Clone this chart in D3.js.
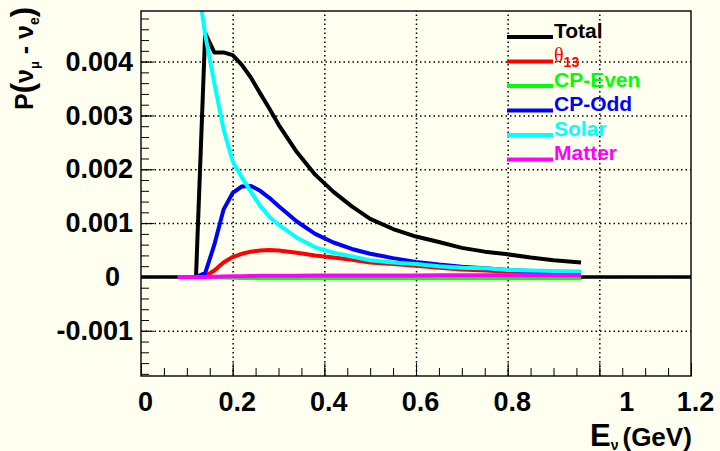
<!DOCTYPE html>
<html>
<head>
<meta charset="utf-8">
<script src="https://cdn.jsdelivr.net/npm/d3@7/dist/d3.min.js"></script>
<style>
  html, body { margin: 0; padding: 0; background: #fffff0; }
  svg { display: block; font-family: "Liberation Sans", Arial, Helvetica, sans-serif; }
</style>
</head>
<body>
<div class="chart"></div>
<script>
/* Neutrino energy (GeV) at which each curve was sampled */
const energy = [0.08, 0.10, 0.12, 0.14, 0.16, 0.18, 0.20, 0.22, 0.24, 0.26, 0.28, 0.30,
                0.34, 0.38, 0.42, 0.46, 0.50, 0.55, 0.60, 0.65, 0.70, 0.75, 0.80, 0.85, 0.90, 0.96];

/* P(numu -> nue) contributions */
const total   = [0, 0, 0, 0.00453, 0.00417, 0.00417, 0.00412, 0.00394, 0.00370, 0.00341, 0.00313, 0.00283,
                 0.00232, 0.00190, 0.00158, 0.00131, 0.00108, 0.00089, 0.00075, 0.00065, 0.00054, 0.00047,
                 0.00042, 0.00036, 0.00031, 0.00027];
const theta13 = [0, 0, 0, 0.00001, 0.00012, 0.00027, 0.00037, 0.00043, 0.00047, 0.00049, 0.00050, 0.00049,
                 0.00045, 0.00040, 0.00036, 0.00032, 0.00027, 0.00024, 0.00021, 0.00017, 0.00014, 0.00012,
                 0.00010, 0.00008, 0.00007, 0.00006];
const cpEven  = [0, 0, 0, 0, -0.000005, -0.00001, -0.000015, -0.00002, -0.00002, -0.000022, -0.000023, -0.000024,
                 -0.000025, -0.000025, -0.000025, -0.000025, -0.000025, -0.000025, -0.000025, -0.000025, -0.000025,
                 -0.000025, -0.000025, -0.000025, -0.000025, -0.000025];
const cpOdd   = [0, 0, 0, 0.00007, 0.00060, 0.00125, 0.00156, 0.00168, 0.00169, 0.00160, 0.00147, 0.00132,
                 0.00103, 0.00080, 0.00064, 0.00052, 0.00043, 0.00035, 0.00028, 0.00023, 0.00019, 0.00016,
                 0.00013, 0.00011, 0.00009, 0.00007];
const solar   = [0.0110, 0.0076, 0.0057, 0.00450, 0.00360, 0.00275, 0.00215, 0.00185, 0.00158, 0.00132, 0.00112, 0.00097,
                 0.00073, 0.00055, 0.00045, 0.00038, 0.00031, 0.00027, 0.00024, 0.00020, 0.00017, 0.00016,
                 0.00013, 0.00012, 0.00011, 0.00010];
const matter  = [0, 0, 0, 0, 0.000005, 0.00001, 0.000012, 0.000015, 0.000017, 0.00002, 0.00002, 0.000022,
                 0.000024, 0.000025, 0.000026, 0.000027, 0.000028, 0.000028, 0.000029, 0.00003, 0.00003, 0.00003,
                 0.00003, 0.00003, 0.00003, 0.00003];

const seriesNames = ["Total", "θ13", "CP-Even", "CP-Odd", "Solar", "Matter"];

/* Axis ticks and their labels */
const xTicks = [0, 0.2, 0.4, 0.6, 0.8, 1.0, 1.2];
const xTickLabels = ["0", "0.2", "0.4", "0.6", "0.8", "1", "1.2"];
const yTicks = [-0.001, 0, 0.001, 0.002, 0.003, 0.004];
const yTickLabels = ["-0.001", "0", "0.001", "0.002", "0.003", "0.004"];

const drawChart = () => {
  const w = 720;
  const h = 451;
  const frame = { left: 141, right: 691, top: 11, bottom: 376 };
  const colors = ["#000000", "#ff0000", "#00ff00", "#0000ff", "#00ffff", "#ff00ff"];
  const series = [total, theta13, cpEven, cpOdd, solar, matter];

  const xScale = d3.scaleLinear()
                   .domain([0, 1.2])
                   .range([frame.left, frame.right]);

  const yScale = d3.scaleLinear()
                   .domain([-0.00184, 0.00494])
                   .range([frame.bottom, frame.top]);

  const svg = d3.select(".chart")
                .append("svg")
                .attr("width", w)
                .attr("height", h);

  svg.append("rect")
     .attr("width", w)
     .attr("height", h)
     .attr("fill", "#fffff0");

  svg.append("clipPath")
     .attr("id", "plot-clip")
     .append("rect")
     .attr("x", frame.left)
     .attr("y", frame.top)
     .attr("width", frame.right - frame.left)
     .attr("height", frame.bottom - frame.top);

  /* Dotted grid at the major ticks, made from full-length axis ticks */
  const xGrid = svg.append("g")
     .attr("transform", "translate(0," + frame.bottom + ")")
     .call(d3.axisBottom(xScale)
             .tickValues(xTicks.filter((d) => d > 0 && d < 1.2))
             .tickSize(-(frame.bottom - frame.top))
             .tickFormat(""));
  xGrid.select(".domain").remove();

  const yGrid = svg.append("g")
     .attr("transform", "translate(" + frame.left + ",0)")
     .call(d3.axisLeft(yScale)
             .tickValues(yTicks)
             .tickSize(-(frame.right - frame.left))
             .tickFormat(""));
  yGrid.select(".domain").remove();

  [xGrid, yGrid].forEach((g) => {
    g.selectAll(".tick line")
     .attr("stroke", "#000")
     .attr("stroke-width", 1.5)
     .attr("stroke-dasharray", "1.5,3");
  });

  /* Minor and major ticks drawn inside the frame, ROOT style */
  const xMinor = d3.range(0, 1.2001, 0.05);
  const yMinor = d3.range(-0.0018, 0.00491, 0.0002);

  svg.append("g")
     .attr("transform", "translate(0," + frame.bottom + ")")
     .call(d3.axisBottom(xScale).tickValues(xMinor).tickSize(-8).tickFormat(""))
     .call((g) => g.select(".domain").remove());

  svg.append("g")
     .attr("transform", "translate(" + frame.left + ",0)")
     .call(d3.axisLeft(yScale).tickValues(yMinor).tickSize(-8).tickFormat(""))
     .call((g) => g.select(".domain").remove());

  const xAxis = svg.append("g")
     .attr("id", "x-axis")
     .attr("transform", "translate(0," + frame.bottom + ")")
     .call(d3.axisBottom(xScale)
             .tickValues(xTicks)
             .tickSize(-13)
             .tickPadding(16)
             .tickFormat((d, i) => xTickLabels[i]));
  xAxis.select(".domain").remove();
  xAxis.selectAll("text")
       .attr("fill", "#000")
       .attr("font-size", 27)
       .attr("font-weight", "bold")
       .attr("font-family", "Liberation Sans, Arial, sans-serif")
       .attr("dx", (d) => (d === 1.0 ? 27 : 4));

  const yAxis = svg.append("g")
     .attr("id", "y-axis")
     .attr("transform", "translate(" + frame.left + ",0)")
     .call(d3.axisLeft(yScale)
             .tickValues(yTicks)
             .tickSize(-13)
             .tickPadding(8)
             .tickFormat((d, i) => yTickLabels[i]));
  yAxis.select(".domain").remove();
  yAxis.selectAll("text")
       .attr("fill", "#000")
       .attr("font-size", 27)
       .attr("font-weight", "bold")
       .attr("font-family", "Liberation Sans, Arial, sans-serif")
       .attr("dx", (d) => (d === 0 ? -13 : 0));

  /* Curves, clipped to the frame; the black zero line sits under them */
  const plot = svg.append("g").attr("clip-path", "url(#plot-clip)");

  plot.append("line")
      .attr("x1", xScale(0))
      .attr("x2", xScale(1.2))
      .attr("y1", yScale(0))
      .attr("y2", yScale(0))
      .attr("stroke", "#000")
      .attr("stroke-width", 3.5);

  const line = d3.line()
                 .x((d, i) => xScale(energy[i]))
                 .y((d) => yScale(d));

  plot.selectAll(".curve")
      .data(series)
      .enter()
      .append("path")
      .attr("class", "curve")
      .attr("d", line)
      .attr("fill", "none")
      .attr("stroke", (d, i) => colors[i])
      .attr("stroke-width", 4)
      .attr("stroke-linejoin", "round");

  /* Frame */
  svg.append("rect")
     .attr("x", frame.left)
     .attr("y", frame.top)
     .attr("width", frame.right - frame.left)
     .attr("height", frame.bottom - frame.top)
     .attr("fill", "none")
     .attr("stroke", "#000")
     .attr("stroke-width", 1.4);

  /* Legend */
  const legend = svg.append("g").attr("transform", "translate(507,0)");
  const legendY = [37, 61.5, 86, 110.5, 135, 159.5];

  seriesNames.forEach((name, i) => {
    legend.append("line")
          .attr("x1", 0)
          .attr("x2", 46)
          .attr("y1", legendY[i])
          .attr("y2", legendY[i])
          .attr("stroke", colors[i])
          .attr("stroke-width", 4);

    const label = legend.append("text")
                        .attr("x", 47)
                        .attr("y", legendY[i] + 0.5)
                        .attr("fill", colors[i])
                        .attr("font-size", 21)
                        .attr("font-weight", "bold");
    if (name === "θ13") {
      label.append("tspan")
           .attr("font-family", "Liberation Serif, Times New Roman, serif")
           .attr("font-weight", "normal")
           .attr("font-size", 20)
           .text("θ");
      label.append("tspan")
           .attr("font-size", 14)
           .attr("dy", 5)
           .text("13");
    } else {
      label.text(name);
    }
  });

  /* Y axis title: P(nu_mu - nu_e) */
  const yTitle = svg.append("text")
                    .attr("transform", "translate(33,110) rotate(-90)")
                    .attr("font-size", 25)
                    .attr("font-weight", "bold")
                    .attr("fill", "#000");
  yTitle.append("tspan").text("P");
  yTitle.append("tspan").attr("font-size", 31).text("(");
  yTitle.append("tspan").text("ν");
  yTitle.append("tspan").attr("font-size", 13).attr("dy", 6).text("μ");
  yTitle.append("tspan").attr("dy", -6).text(" - ");
  yTitle.append("tspan").text("ν");
  yTitle.append("tspan").attr("font-size", 14).attr("dy", 6).text("e");
  yTitle.append("tspan").attr("font-size", 31).attr("dy", -6).text(")");

  /* X axis title: E_nu (GeV) */
  const xTitle = svg.append("text")
                    .attr("x", 590)
                    .attr("y", 446)
                    .attr("font-size", 31)
                    .attr("font-weight", "bold")
                    .attr("fill", "#000");
  xTitle.append("tspan").text("E");
  xTitle.append("tspan").attr("font-size", 14).attr("dy", 4).text("ν");
  xTitle.append("tspan").attr("font-size", 26).attr("dy", -4).attr("dx", 4).text("(GeV)");
};

document.addEventListener("DOMContentLoaded", drawChart);
</script>
</body>
</html>
